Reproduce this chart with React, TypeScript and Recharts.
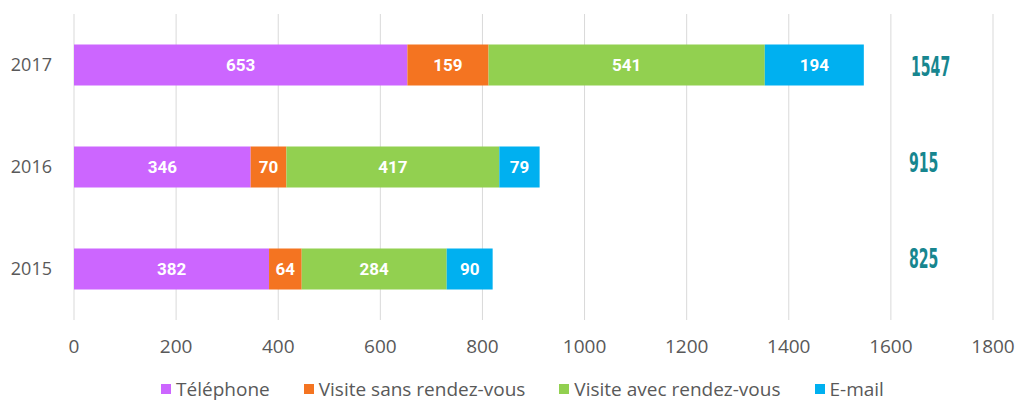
import React from "react"
import { Bar, BarChart, CartesianGrid, LabelList, Legend, XAxis, YAxis } from "recharts"

const years = ["2017", "2016", "2015"]
const telephone = [653, 346, 382]
const sansRdv = [159, 70, 64]
const avecRdv = [541, 417, 284]
const email = [194, 79, 90]
const totals = [1547, 915, 825]
const xTicks = [0, 200, 400, 600, 800, 1000, 1200, 1400, 1600, 1800]

const series = [
  { key: "telephone", name: "Téléphone", color: "#CC66FF" },
  { key: "sansRdv", name: "Visite sans rendez-vous", color: "#F47421" },
  { key: "avecRdv", name: "Visite avec rendez-vous", color: "#92D050" },
  { key: "email", name: "E-mail", color: "#00B0F0" },
]

const data = years.map((year, i) => ({
  year,
  telephone: telephone[i],
  sansRdv: sansRdv[i],
  avecRdv: avecRdv[i],
  email: email[i],
  total: totals[i],
}))

const axisFont = "'Open Sans', sans-serif"
// the totals column sits a bit off the bar centres in the original
const totalShift = [11, 5, -1]

function SegmentLabel(props: any) {
  const { x, y, width, height, value } = props
  return (
    <text
      x={x + width / 2}
      y={y + height / 2}
      dy={6}
      textAnchor="middle"
      fill="#fff"
      fontFamily="Roboto, sans-serif"
      fontWeight={700}
      fontSize={17}
    >
      {value}
    </text>
  )
}

function TotalLabel(props: any) {
  const { y, height, index } = props
  const t = String(totals[index])
  return (
    <text
      x={index === 0 ? 911 : 909}
      y={y + height / 2}
      dy={totalShift[index]}
      fill="#17868F"
      fontFamily="'Liberation Sans Narrow', 'DejaVu Sans Condensed', sans-serif"
      fontWeight={700}
      fontSize={26}
      textLength={t.length * 9.8}
      lengthAdjust="spacingAndGlyphs"
    >
      {t}
    </text>
  )
}

function LegendContent() {
  return (
    <div
      style={{
        display: "flex",
        justifyContent: "center",
        gap: 34,
        marginTop: 9,
        fontFamily: axisFont,
        fontSize: 19,
        lineHeight: "24px",
        color: "#595959",
        paddingLeft: 52,
      }}
    >
      {series.map((s) => (
        <span key={s.key} style={{ display: "flex", alignItems: "center", gap: 5 }}>
          <span style={{ width: 10, height: 10, background: s.color, display: "inline-block" }} />
          {s.name}
        </span>
      ))}
    </div>
  )
}

export default function App() {
  return (
    <div style={{ position: "absolute", left: 0, top: 0, background: "#fff" }}>
      <BarChart
        width={1018}
        height={403}
        data={data}
        layout="vertical"
        barCategoryGap="30%"
        margin={{ top: 14, right: 25, left: 0, bottom: 0 }}
      >
        <CartesianGrid horizontal={false} stroke="#D9D9D9" />
        <XAxis
          type="number"
          domain={[0, 1800]}
          ticks={xTicks}
          axisLine={false}
          tickLine={false}
          height={48}
          tickMargin={14}
          tick={{ fill: "#595959", fontSize: 19, fontFamily: axisFont }}
        />
        <YAxis
          type="category"
          dataKey="year"
          width={74}
          axisLine={false}
          tickLine={false}
          tickMargin={16}
          tick={{ fill: "#595959", fontSize: 18, fontFamily: axisFont }}
        />
        <Legend verticalAlign="bottom" height={35} content={<LegendContent />} />
        {series.map((s, i) => (
          <Bar
            key={s.key}
            dataKey={s.key}
            name={s.name}
            stackId="a"
            fill={s.color}
            isAnimationActive={false}
          >
            <LabelList dataKey={s.key} content={<SegmentLabel />} />
            {i === series.length - 1 && <LabelList dataKey="total" content={<TotalLabel />} />}
          </Bar>
        ))}
      </BarChart>
    </div>
  )
}
